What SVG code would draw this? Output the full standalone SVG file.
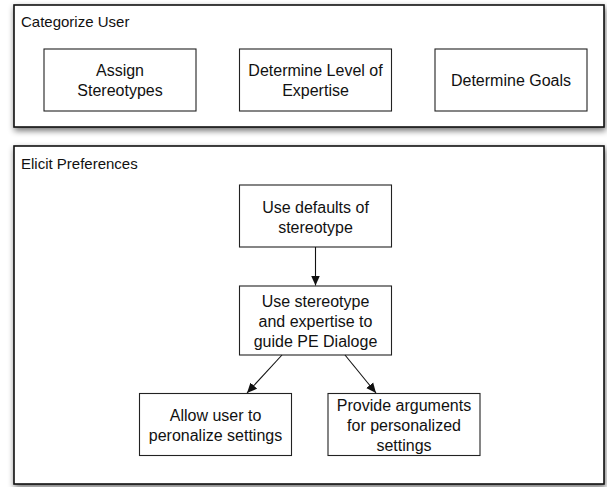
<svg xmlns="http://www.w3.org/2000/svg" width="607" height="487" viewBox="0 0 607 487">
<style>
.frame{fill:#fff;stroke:#111;stroke-width:1.6}
.node{fill:#fff;stroke:#222;stroke-width:1.1}
.title{font-family:"Liberation Sans",Arial,sans-serif;font-size:15px;fill:#111}
.lbl{font-family:"Liberation Sans",Arial,sans-serif;font-size:16px;fill:#111;text-anchor:middle}
.edge{stroke:#111;stroke-width:1.1;fill:none}
</style>
<defs>
<filter id="sh" x="-5%" y="-10%" width="110%" height="125%">
<feGaussianBlur in="SourceAlpha" stdDeviation="3"/>
<feOffset dx="1" dy="3" result="b"/>
<feComponentTransfer><feFuncA type="linear" slope="0.55"/></feComponentTransfer>
<feMerge><feMergeNode/><feMergeNode in="SourceGraphic"/></feMerge>
</filter>
<marker id="ah" viewBox="0 0 10 10" refX="10" refY="5" markerWidth="10" markerHeight="10" markerUnits="userSpaceOnUse" orient="auto">
<path d="M0,0.5 L10,5 L0,9.5 Z" fill="#111"/>
</marker>
</defs>
<g id="categorize-user">
<rect class="frame" x="14" y="5" width="590" height="122" filter="url(#sh)"/>
<text class="title" x="21" y="27">Categorize User</text>
</g>
<g id="elicit-preferences">
<rect class="frame" x="14" y="146" width="590" height="338" filter="url(#sh)"/>
<text class="title" x="21" y="169">Elicit Preferences</text>
</g>
<g id="assign-stereotypes">
<rect class="node" x="44" y="49" width="152" height="62"/>
<text class="lbl" x="120" y="76">Assign</text>
<text class="lbl" x="120" y="96">Stereotypes</text>
</g>
<g id="determine-level">
<rect class="node" x="239.5" y="49" width="152" height="62"/>
<text class="lbl" x="315.5" y="76">Determine Level of</text>
<text class="lbl" x="315.5" y="96">Expertise</text>
</g>
<g id="determine-goals">
<rect class="node" x="435" y="49" width="152" height="62"/>
<text class="lbl" x="511" y="86">Determine Goals</text>
</g>
<g id="use-defaults">
<rect class="node" x="239.5" y="185" width="152" height="62"/>
<text class="lbl" x="315.5" y="213">Use defaults of</text>
<text class="lbl" x="315.5" y="233">stereotype</text>
</g>
<g id="use-stereotype">
<rect class="node" x="239.5" y="286" width="152" height="69"/>
<text class="lbl" x="315.5" y="307">Use stereotype</text>
<text class="lbl" x="315.5" y="327">and expertise to</text>
<text class="lbl" x="315.5" y="347">guide PE Dialoge</text>
</g>
<g id="allow-user">
<rect class="node" x="139.5" y="393.5" width="152" height="62"/>
<text class="lbl" x="215.5" y="420.5">Allow user to</text>
<text class="lbl" x="215.5" y="440.5">peronalize settings</text>
</g>
<g id="provide-arguments">
<rect class="node" x="328" y="393.5" width="152" height="62"/>
<text class="lbl" x="404" y="410.5">Provide arguments</text>
<text class="lbl" x="404" y="430.5">for personalized</text>
<text class="lbl" x="404" y="450.5">settings</text>
</g>
<g id="connectors">
<line class="edge" x1="315.5" y1="247" x2="315.5" y2="285.5" marker-end="url(#ah)"/>
<line class="edge" x1="282" y1="355" x2="247" y2="393" marker-end="url(#ah)"/>
<line class="edge" x1="345" y1="355" x2="376" y2="393" marker-end="url(#ah)"/>
</g>
</svg>
